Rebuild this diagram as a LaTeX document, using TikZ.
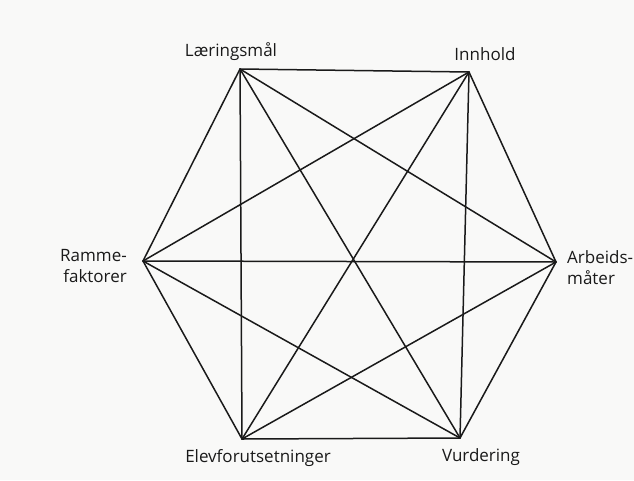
\documentclass[tikz,border=0pt]{standalone}
\usepackage{fontspec}
\setmainfont{Open Sans}
\usetikzlibrary{positioning}
\definecolor{cInk}{HTML}{1A1A1A}
\definecolor{cPaper}{HTML}{F9F9F8}
\tikzset{
  every node/.style={font=\fontsize{17}{21}\selectfont, text=cInk, inner sep=1pt},
  edge/.style={draw=cInk, line width=1.5pt, line cap=round},
  lbl/.style={align=center},
}
\begin{document}
\begin{tikzpicture}[x=1pt,y=-1pt]
\fill[cPaper] (0,0) rectangle (634,480);
\useasboundingbox (0,0) rectangle (634,480);
% corners of the hexagon
\coordinate (lm) at (240,69);
\coordinate (inn) at (469,72);
\coordinate (rf) at (143,261);
\coordinate (am) at (556,262);
\coordinate (ef) at (242,439);
\coordinate (vu) at (460,438);
% labels
\node[lbl] (Llm) at (231,52) {Læringsmål};
\node[lbl] (Linn) at (485,54) {Innhold};
\node[lbl, align=right, anchor=east] (Lrf) at (128,266) {Ramme-\\faktorer};
\node[lbl, align=left, anchor=west] (Lam) at (566,268) {Arbeids-\\måter};
\node[lbl] (Lef) at (258,458) {Elevforutsetninger};
\node[lbl] (Lvu) at (481,457) {Vurdering};
% every corner joined to every other
\foreach \a/\b in {lm/inn,lm/rf,lm/am,lm/ef,lm/vu,
                   inn/rf,inn/am,inn/ef,inn/vu,
                   rf/am,rf/ef,rf/vu,
                   am/ef,am/vu,
                   ef/vu}
  \draw[edge] (\a) -- (\b);
\end{tikzpicture}
\end{document}
